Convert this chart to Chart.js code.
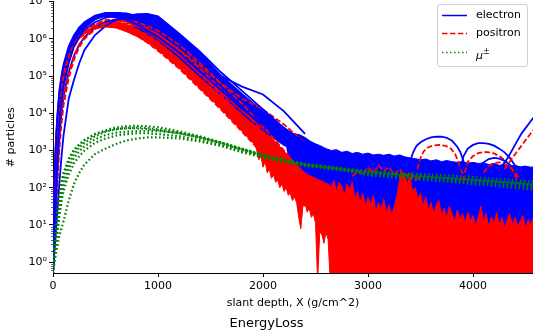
<!DOCTYPE html>
<html lang="en">
<head>
<meta charset="UTF-8">
<title>EnergyLoss</title>
<script src="https://cdn.jsdelivr.net/npm/chart.js"></script>
<style>
  * { margin: 0; padding: 0; box-sizing: border-box; }
  html, body { width: 533px; height: 333px; overflow: hidden; background: #fff; font-family: 'DejaVu Sans', sans-serif; }
  .wrap { position: absolute; left: 0; top: -7px; width: 533px; height: 340px; }
  .legend { position: absolute; left: 437px; top: 4px; width: 91px; height: 63px; border: 1px solid #d0d0d0; border-radius: 3px; background: rgba(255,255,255,0.85); font-size: 11px; color: #000; }
  .legend .row { position: absolute; left: 0; width: 89px; height: 14px; line-height: 14px; }
  .legend svg { position: absolute; left: 4px; top: 6px; }
  .legend span { position: absolute; left: 38px; white-space: nowrap; }
</style>
</head>
<body>
<div class="wrap"><canvas id="chart" width="533" height="340"></canvas></div>
<div class="legend">
  <div class="row" style="top:3px"><svg width="25" height="3"><line x1="0" y1="1.5" x2="25" y2="1.5" stroke="#0000ff" stroke-width="1.5"/></svg><span>electron</span></div>
  <div class="row" style="top:21px"><svg width="25" height="3"><line x1="0" y1="1.5" x2="25" y2="1.5" stroke="#ff0000" stroke-width="1.5" stroke-dasharray="5.5 2.4"/></svg><span>positron</span></div>
  <div class="row" style="top:40px"><svg width="25" height="3"><line x1="0" y1="1.5" x2="25" y2="1.5" stroke="#008000" stroke-width="1.5" stroke-dasharray="1.5 2.5"/></svg><span><i>μ</i><sup style="font-size:8px">±</sup></span></div>
</div>
<script>
// slant depth sample positions (g/cm^2)
const showerDepth = [0, 10, 20, 30, 40, 60, 80, 100, 150, 200, 250, 300, 400, 500, 600, 700, 800, 900, 1000, 1200, 1400, 1600, 1800, 2000, 2200, 2400];
const muonDepth = [0, 10, 20, 40, 60, 80, 100, 150, 200, 250, 300, 400, 500, 600, 700, 800, 900, 1000, 1200, 1400, 1600, 1800, 2000, 2200, 2400, 2600, 2800, 3000, 3400, 3800, 4200, 4600];

// dense core of the shower bundles (upper / lower edge)
const electronCoreTop = [0.6, 63, 630, 2500, 7900, 4e4, 1e5, 2e5, 6.3e5, 1.26e6, 2e6, 2.8e6, 4.2e6, 5e6, 5.2e6, 4.8e6, 4.6e6, 4.7e6, 4e6, 1.4e6, 4.5e5, 1.12e5, 3.5e4, 1.12e4, 3500, 1400];
const electronCoreLow = [0.5, 4, 32, 200, 1000, 7900, 2.8e4, 7e4, 2.8e5, 7e5, 1.26e6, 2e6, 3.2e6, 4e6, 3.8e6, 2.95e6, 2e6, 1.35e6, 8.9e5, 3.2e5, 1e5, 3.2e4, 1e4, 3500, 1400, 800];
const positronCoreTop = [0.6, 32, 320, 1260, 4000, 2e4, 5.6e4, 1.12e5, 3.5e5, 7.6e5, 1.2e6, 1.58e6, 2.3e6, 2.75e6, 2.8e6, 2.5e6, 2e6, 1.5e6, 1.05e6, 4e5, 1.26e5, 4e4, 1.26e4, 4000, 1000, 250];
const positronCoreLow = [0.5, 6.3, 63, 400, 1600, 1e4, 3.2e4, 7e4, 2.5e5, 6e5, 1e6, 1.3e6, 1.8e6, 2e6, 1.9e6, 1.5e6, 1.12e6, 7.6e5, 4.8e5, 1.6e5, 4.5e4, 1.26e4, 3200, 800, 160, 32];

// electrons per shower
const electron1 = [0.6, 63, 630, 2500, 7900, 4e4, 1e5, 2e5, 6.3e5, 1.26e6, 2e6, 2.6e6, 3.5e6, 4.2e6, 3.8e6, 2.95e6, 2e6, 1.35e6, 8.9e5, 3.2e5, 1e5, 3.2e4, 1e4, 3500, 1400, 800];
const electron2 = [0.6, 25, 320, 1600, 5000, 2.5e4, 7e4, 1.6e5, 5e5, 1.12e6, 2e6, 2.8e6, 4.2e6, 5e6, 5e6, 4.2e6, 3.2e6, 2.2e6, 1.6e6, 5.6e5, 1.8e5, 5.6e4, 1.8e4, 6300, 2500, 1100];
const electron3 = [0.6, 10, 100, 630, 2500, 1.6e4, 5e4, 1.12e5, 4e5, 8.9e5, 1.6e6, 2.4e6, 3.8e6, 4.8e6, 5e6, 4.5e6, 3.5e6, 2.6e6, 1.9e6, 7e5, 2.2e5, 7e4, 2.2e4, 7900, 2800, 1260];
const electron4 = [0.5, 4, 32, 200, 1000, 7900, 2.8e4, 7e4, 2.8e5, 7e5, 1.26e6, 2e6, 3.3e6, 4.6e6, 5e6, 4.8e6, 4e6, 3.2e6, 2.4e6, 8.9e5, 2.8e5, 8.9e4, 2.8e4, 1e4, 3500, 1400];
const electron5 = [0.5, 2, 8, 40, 200, 2000, 1e4, 2.8e4, 1.26e5, 3.5e5, 7e5, 1.12e6, 2e6, 2.8e6, 3.3e6, 3.5e6, 3.2e6, 2.6e6, 2.1e6, 8.9e5, 3.2e5, 1e5, 3.2e4, 1.1e4, 4000, 1600];
const electron6 = [0.5, 1.6, 3.2, 8, 20, 126, 630, 2500, 2.5e4, 7.9e4, 2.2e5, 5e5, 1.26e6, 2.2e6, 3.2e6, 4e6, 4.6e6, 4.7e6, 4e6, 1.4e6, 4.5e5, 1.26e5, 4e4, 1.26e4, 4000, 1600];
const electron7 = [0.5, 3.2, 16, 100, 500, 5000, 2e4, 5e4, 2.2e5, 6.3e5, 1.12e6, 1.8e6, 2.8e6, 3.7e6, 4e6, 3.8e6, 3.3e6, 2.6e6, 2e6, 7.9e5, 2.8e5, 1e5, 5.2e4, 3.2e4, 1.12e4, 2800];
const electron8 = [0.6, 40, 400, 2000, 6300, 3.2e4, 8.9e4, 1.8e5, 5.6e5, 1.12e6, 1.8e6, 2.5e6, 3.5e6, 4.2e6, 4e6, 3.2e6, 2.4e6, 1.66e6, 1.12e6, 4.2e5, 1.3e5, 4.2e4, 1.3e4, 5000, 2000, 1000];

// positrons per shower
const positron1 = [0.6, 32, 320, 1260, 4000, 2e4, 5.6e4, 1.12e5, 3.5e5, 7.9e5, 1.26e6, 1.66e6, 2.4e6, 2.8e6, 2.8e6, 2.4e6, 1.8e6, 1.26e6, 8.3e5, 2.8e5, 7.9e4, 2.2e4, 6300, 1600, 320, 63];
const positron2 = [0.5, 6.3, 63, 400, 1600, 1e4, 3.2e4, 7e4, 2.5e5, 6e5, 1.05e6, 1.5e6, 2.4e6, 3e6, 3.2e6, 2.8e6, 2.2e6, 1.66e6, 1.12e6, 4e5, 1.12e5, 3.2e4, 8900, 2200, 500, 100];
const positron3 = [0.5, 2, 6.3, 25, 100, 1000, 5000, 1.6e4, 8.9e4, 2.8e5, 6e5, 1e6, 1.8e6, 2.5e6, 3e6, 3.2e6, 2.8e6, 2.2e6, 1.66e6, 7e5, 2.2e5, 6.3e4, 1.8e4, 4500, 1000, 200];
const positron4 = [0.6, 16, 160, 800, 2500, 1.4e4, 4.5e4, 9.5e4, 3.2e5, 7e5, 1.2e6, 1.66e6, 2.5e6, 3.2e6, 3.3e6, 3e6, 2.4e6, 1.9e6, 1.3e6, 5e5, 1.6e5, 4.5e4, 1.26e4, 3200, 700, 160];
const positron5 = [0.5, 2.5, 10, 50, 250, 2500, 1e4, 2.8e4, 1.26e5, 3.5e5, 7e5, 1.12e6, 2e6, 2.6e6, 2.8e6, 2.6e6, 2.2e6, 1.8e6, 1.3e6, 5.2e5, 1.9e5, 6.3e4, 2.5e4, 1.26e4, 5000, 1600];
const positron6 = [0.6, 50, 500, 2000, 5600, 2.5e4, 6.3e4, 1.26e5, 3.5e5, 7e5, 1.05e6, 1.3e6, 1.9e6, 2.2e6, 2.1e6, 1.66e6, 1.2e6, 7.9e5, 4.8e5, 1.6e5, 4.5e4, 1.26e4, 3200, 800, 160, 32];

// muons per shower
const muon1 = [0.5, 2, 4, 16, 56, 126, 224, 560, 1000, 1400, 1900, 2800, 3500, 4200, 4500, 4600, 4500, 4200, 3300, 2400, 1660, 1100, 760, 560, 440, 380, 320, 280, 240, 210, 175, 145];
const muon2 = [0.5, 1.4, 2.8, 10, 35, 90, 160, 420, 800, 1200, 1600, 2400, 3200, 3700, 4000, 4100, 4000, 3700, 3000, 2240, 1600, 1050, 740, 530, 420, 360, 300, 250, 210, 178, 148, 120];
const muon3 = [0.5, 1, 2, 5, 16, 40, 80, 224, 450, 700, 1000, 1600, 2100, 2500, 2750, 2900, 2900, 2750, 2400, 1900, 1400, 940, 670, 500, 390, 340, 290, 230, 190, 158, 126, 100];
const muon4 = [0.5, 0.8, 1.26, 2.5, 5, 7.9, 12.6, 45, 126, 250, 420, 800, 1120, 1500, 1860, 2100, 2240, 2240, 2100, 1740, 1320, 890, 650, 490, 380, 330, 280, 214, 174, 141, 112, 87];
const muon5 = [0.5, 2.5, 5, 20, 63, 140, 250, 600, 1050, 1450, 1900, 2700, 3300, 3800, 3950, 3900, 3750, 3500, 2900, 2200, 1550, 1050, 720, 520, 410, 350, 300, 260, 215, 180, 150, 124];
const muon6 = [0.5, 1.1, 2.2, 7, 22, 55, 110, 320, 630, 950, 1300, 2000, 2600, 3000, 3200, 3300, 3350, 3300, 2900, 2250, 1650, 1120, 780, 560, 430, 360, 305, 255, 205, 170, 140, 112];

// fluctuating electron tail: upper and lower envelope
const tailDepth = [2200, 2250, 2300, 2350, 2400, 2450, 2500, 2550, 2600, 2650, 2700, 2750, 2800, 2850, 2900, 2950, 3000, 3050, 3100, 3150, 3200, 3250, 3300, 3350, 3400, 3450, 3500, 3550, 3600, 3650, 3700, 3750, 3800, 3850, 3900, 3950, 4000, 4050, 4100, 4150, 4200, 4250, 4300, 4350, 4400, 4450, 4500, 4550, 4600];
const electronTailTop = [3980, 3160, 2820, 2630, 2240, 1780, 1510, 1320, 1120, 1000, 1050, 890, 955, 830, 890, 794, 850, 760, 794, 740, 794, 708, 760, 676, 630, 603, 562, 589, 525, 562, 501, 537, 501, 479, 501, 457, 479, 447, 468, 417, 447, 398, 427, 380, 398, 363, 380, 355, 372];
const electronTailLow = [2820, 398, 282, 200, 158, 126, 100, 89, 79, 71, 3, 3, 3, 3, 3, 3, 3, 3, 3, 3, 3, 3, 3, 3, 3, 3, 3, 3, 3, 3, 3, 3, 3, 3, 3, 3, 3, 3, 3, 3, 3, 3, 3, 3, 3, 3, 3, 3, 3];

// positron break-up region: upper and lower envelope
const breakDepth = [1900, 1920, 1940, 1960, 1980, 2000, 2020, 2040, 2060, 2080, 2100, 2120, 2140, 2160, 2180, 2200, 2220, 2240, 2260, 2280, 2300, 2320, 2340, 2360, 2380, 2400, 2420, 2440, 2460, 2480, 2500, 2520, 2540, 2560, 2580, 2600, 2620, 2640, 2660];
const positronBreakTop = [3160, 3020, 2880, 2630, 2510, 2140, 2000, 1660, 1580, 1320, 1200, 1000, 955, 794, 759, 631, 603, 501, 479, 417, 398, 355, 316, 302, 263, 251, 224, 214, 200, 191, 178, 166, 158, 151, 141, 132, 126, 112, 100];
const positronBreakLow = [2820, 1580, 1000, 562, 708, 355, 501, 251, 316, 178, 224, 141, 158, 100, 126, 79, 100, 63, 71, 45, 56, 40, 16, 7.9, 32, 40, 22, 28, 16, 20, 11, 0.3, 6.3, 5.6, 3.2, 6.3, 4, 0.3, 0.3];

// positron noise floor (down to zero counts)
const floorDepth = [2650, 2675, 2700, 2725, 2750, 2775, 2800, 2825, 2850, 2875, 2900, 2925, 2950, 2975, 3000, 3025, 3050, 3075, 3100, 3125, 3150, 3175, 3200, 3225, 3250, 3275, 3300, 3325, 3350, 3375, 3400, 3425, 3450, 3475, 3500, 3525, 3550, 3575, 3600, 3625, 3650, 3675, 3700, 3725, 3750, 3775, 3800, 3825, 3850, 3875, 3900, 3925, 3950, 3975, 4000, 4025, 4050, 4075, 4100, 4125, 4150, 4175, 4200, 4225, 4250, 4275, 4300, 4325, 4350, 4375, 4400, 4425, 4450, 4475, 4500, 4525, 4550, 4575, 4600];
const positronFloor = [100, 158, 79, 141, 112, 63, 126, 89, 141, 50,
  79, 40, 71, 32, 56, 35, 63, 22, 40, 25,
  50, 20, 35, 18, 32, 63, 158, 251, 224, 126,
  200, 79, 100, 50, 71, 32, 56, 25, 40, 20,
  35, 45, 18, 28, 16, 32, 20, 12.6, 25, 14,
  20, 11, 22, 12.6, 18, 9, 16, 32, 12.6, 20,
  9, 16, 11, 22, 10, 16, 8, 14, 20, 10,
  16, 9, 12.6, 18, 8, 14, 10, 16, 11];
const positronTailDepth = [2850, 2900, 2950, 3000, 3050, 3100, 3150, 3200, 3250, 3300, 3350, 3400, 3450, 3500];
const positronTail = [200, 282, 224, 355, 251, 398, 282, 355, 224, 316, 200, 251, 158, 200];

// late sub-showers
const lateADepth = [3400, 3430, 3460, 3500, 3550, 3600, 3650, 3700, 3750, 3800, 3850, 3880, 3910, 3940];
const lateAElectron = [501, 891, 1320, 1660, 2000, 2240, 2340, 2340, 2190, 1820, 1260, 891, 501, 316];
const lateAPosDepth = [3470, 3500, 3530, 3570, 3620, 3680, 3740, 3790, 3830, 3860, 3890, 3920];
const lateAPositron = [316, 631, 955, 1200, 1350, 1410, 1320, 1120, 794, 501, 282, 158];
const lateBDepth = [3880, 3910, 3950, 4000, 4050, 4100, 4150, 4200, 4250, 4300, 4350, 4400, 4430];
const lateBElectron = [316, 708, 1120, 1410, 1580, 1580, 1510, 1350, 1120, 891, 631, 398, 251];
const lateBPosDepth = [3920, 3950, 4000, 4050, 4100, 4150, 4200, 4250, 4300, 4350, 4390, 4420];
const lateBPositron = [251, 501, 708, 851, 912, 891, 832, 708, 562, 398, 251, 158];
const lateCDepth = [4060, 4100, 4150, 4200, 4250, 4300, 4350, 4400, 4450];
const lateCElectron = [316, 479, 589, 631, 603, 525, 417, 302, 200];
const lateCPosDepth = [4100, 4150, 4200, 4250, 4300, 4350, 4400, 4440];
const lateCPositron = [251, 380, 457, 479, 437, 355, 263, 178];
const lateDDepth = [4280, 4330, 4380, 4420, 4460, 4500, 4540, 4580, 4620];
const lateDElectron = [398, 631, 1120, 1780, 2820, 3980, 5620, 7940, 10000];
const lateDPosDepth = [4300, 4350, 4400, 4440, 4480, 4520, 4560, 4600];
const lateDPositron = [316, 501, 794, 1120, 1580, 2240, 3160, 4170];

const xTicks = [0, 1000, 2000, 3000, 4000];
const yMajorTicks = [1, 10, 100, 1000, 1e4, 1e5, 1e6, 1e7];
const supDigits = ['⁰', '¹', '²', '³', '⁴', '⁵', '⁶', '⁷'];

const BLUE = '#0000ff', RED = '#ff0000', GREEN = '#008000';

function pts(xs, ys) { return xs.map((x, i) => ({ x: x, y: ys[i] })); }
function electronLine(xs, ys, order) {
  return { data: pts(xs, ys), borderColor: BLUE, borderWidth: 1.8, order: order };
}
function positronLine(xs, ys, order) {
  return { data: pts(xs, ys), borderColor: RED, borderWidth: 1.8, borderDash: [5.5, 2.4], order: order };
}
function muonLine(xs, ys, order) {
  return { data: pts(xs, ys), borderColor: GREEN, borderWidth: 2.2, borderDash: [1.6, 2.4], order: order };
}

const datasets = [
  // filled envelopes (indices 0..8), each top one fills down to the next dataset
  { data: pts(tailDepth, electronTailTop), borderColor: BLUE, borderWidth: 1, backgroundColor: BLUE, fill: '+1', order: 100 },
  { data: pts(tailDepth, electronTailLow), borderWidth: 0, order: 100 },
  { data: pts(breakDepth, positronBreakTop), borderColor: RED, borderWidth: 1, backgroundColor: RED, fill: '+1', order: 90 },
  { data: pts(breakDepth, positronBreakLow), borderColor: RED, borderWidth: 1, order: 90 },
  { data: pts(floorDepth, positronFloor), borderColor: RED, borderWidth: 1, backgroundColor: RED, fill: 'start', order: 90 },
  { data: pts(showerDepth, electronCoreTop), borderWidth: 0, backgroundColor: BLUE, fill: '+1', order: 80 },
  { data: pts(showerDepth, electronCoreLow), borderWidth: 0, order: 80 },
  { data: pts(showerDepth, positronCoreTop), borderWidth: 0, backgroundColor: RED, fill: '+1', order: 79 },
  { data: pts(showerDepth, positronCoreLow), borderWidth: 0, order: 79 },
  // showers
  electronLine(showerDepth, electron1, 61), positronLine(showerDepth, positron1, 60),
  electronLine(showerDepth, electron2, 59), positronLine(showerDepth, positron2, 58),
  electronLine(showerDepth, electron3, 57), positronLine(showerDepth, positron3, 56),
  electronLine(showerDepth, electron4, 55), positronLine(showerDepth, positron4, 54),
  electronLine(showerDepth, electron5, 53), positronLine(showerDepth, positron5, 52),
  electronLine(showerDepth, electron6, 51), positronLine(showerDepth, positron6, 50),
  electronLine(showerDepth, electron7, 49), electronLine(showerDepth, electron8, 48),
  positronLine(positronTailDepth, positronTail, 30),
  muonLine(muonDepth, muon1, 20), muonLine(muonDepth, muon2, 19),
  muonLine(muonDepth, muon3, 18), muonLine(muonDepth, muon4, 17),
  muonLine(muonDepth, muon5, 16), muonLine(muonDepth, muon6, 15),
  electronLine(lateADepth, lateAElectron, 9), positronLine(lateAPosDepth, lateAPositron, 8),
  electronLine(lateBDepth, lateBElectron, 7), positronLine(lateBPosDepth, lateBPositron, 6),
  electronLine(lateCDepth, lateCElectron, 5), positronLine(lateCPosDepth, lateCPositron, 4),
  electronLine(lateDDepth, lateDElectron, 3), positronLine(lateDPosDepth, lateDPositron, 2)
];

// small minor ticks on the log axis, like matplotlib
const minorTicks = {
  id: 'minorTicks',
  afterDraw(chart) {
    const y = chart.scales.y, ctx = chart.ctx, left = chart.chartArea.left;
    ctx.save();
    ctx.strokeStyle = '#000';
    ctx.lineWidth = 0.6;
    for (let k = -1; k < 7; k++) {
      for (let m = 2; m < 10; m++) {
        const v = m * Math.pow(10, k);
        if (v < y.min || v > y.max) continue;
        const py = Math.round(y.getPixelForValue(v)) + 0.5;
        ctx.beginPath();
        ctx.moveTo(left - 2, py);
        ctx.lineTo(left, py);
        ctx.stroke();
      }
    }
    ctx.restore();
  }
};

const font = { family: "'DejaVu Sans', sans-serif", size: 11 };

new Chart(document.getElementById('chart'), {
  type: 'line',
  data: { datasets: datasets },
  options: {
    responsive: false,
    animation: false,
    events: [],
    layout: { padding: 0 },
    elements: { point: { radius: 0 }, line: { tension: 0 } },
    plugins: {
      legend: { display: false },
      tooltip: { enabled: false },
      title: {
        display: true, text: 'EnergyLoss', position: 'bottom', color: '#000',
        font: { family: font.family, size: 13, weight: 'normal' },
        padding: { top: 2, bottom: 2 }
      }
    },
    scales: {
      x: {
        type: 'linear', min: 0, max: 4571,
        afterBuildTicks: s => { s.ticks = xTicks.map(v => ({ value: v })); },
        ticks: { color: '#000', font: font, padding: 3, maxRotation: 0, autoSkip: false, callback: v => String(v) },
        grid: { drawOnChartArea: false, drawTicks: true, tickLength: 4, tickColor: '#000' },
        border: { display: true, color: '#000', width: 1 },
        title: { display: true, text: 'slant depth, X (g/cm^2)', color: '#000', font: font, padding: { top: 0, bottom: 4 } }
      },
      y: {
        type: 'logarithmic', min: 0.51, max: 1e7,
        afterFit: s => { s.width = 53; },
        afterBuildTicks: s => { s.ticks = yMajorTicks.map(v => ({ value: v, major: true })); },
        ticks: {
          color: '#000', font: font, padding: 2, autoSkip: false,
          callback: v => { const i = yMajorTicks.indexOf(v); return i < 0 ? '' : '10' + supDigits[i]; }
        },
        grid: { drawOnChartArea: false, drawTicks: true, tickLength: 4, tickColor: '#000' },
        border: { display: true, color: '#000', width: 1 },
        title: { display: true, text: '# particles', color: '#000', font: font, padding: { top: 5, bottom: 0 } }
      }
    }
  },
  plugins: [minorTicks]
});
</script>
</body>
</html>
